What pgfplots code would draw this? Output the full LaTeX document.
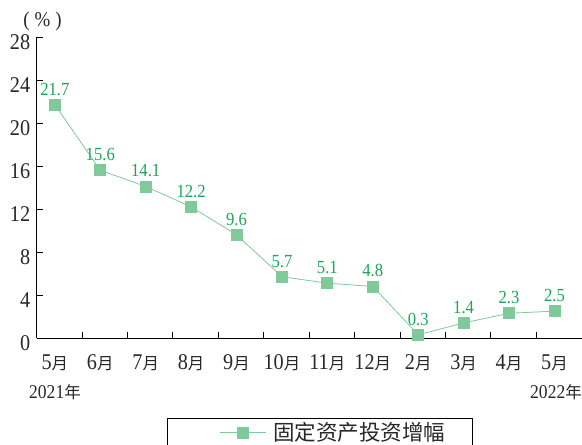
\documentclass[border=0pt]{standalone}
\usepackage{fontspec}
\setmainfont{Liberation Serif}[FakeStretch=0.9]
\newfontfamily\cjk{Noto Sans CJK SC}
\usepackage{pgfplots}
\pgfplotsset{compat=1.18}
\definecolor{lg}{RGB}{128,201,154}
\definecolor{dg}{RGB}{28,165,88}
\definecolor{tx}{RGB}{40,40,40}
\newcommand\yue{{\fontsize{16.5}{18}\selectfont\cjk 月}}
\pgfplotstableread{
x y label
0 21.7 21.7
1 15.6 15.6
2 14.1 14.1
3 12.2 12.2
4 9.6 9.6
5 5.7 5.7
6 5.1 5.1
7 4.8 4.8
8 0.3 0.3
9 1.4 1.4
10 2.3 2.3
11 2.5 2.5
}\datatable
\begin{document}
\begin{tikzpicture}
\begin{axis}[
  at={(0pt,0pt)}, anchor=south west,
  scale only axis, width=545pt, height=301pt,
  xmin=-0.4, xmax=11.6, ymin=0, ymax=28,
  clip=false,
  /pgf/number format/assume math mode=true,
  axis x line=bottom, axis y line=left,
  axis line style={-, line width=1pt, black},
  tick align=inside,
  ytick={0,4,...,28},
  major tick length=6pt,
  every tick/.style={black, line width=1pt},
  xtick={0.6,1.6,2.6,3.6,4.6,5.6,6.6,7.6,8.6,9.6,10.6},
  xticklabels={},
  extra x ticks={0,...,11},
  extra x tick labels={5\yue,6\yue,7\yue,8\yue,9\yue,10\yue,11\yue,12\yue,2\yue,3\yue,4\yue,5\yue},
  extra x tick style={major tick length=0pt, tick style={draw=none}},
  yticklabel style={font=\fontsize{22.5}{24}\selectfont, text=tx, yshift=-5pt, xshift=-3pt},
  xticklabel style={font=\fontsize{22.5}{24}\selectfont, text=tx, yshift=-13pt},
  legend style={at={(0.239,-0.266)}, anchor=north west, draw=black, line width=1pt,
    inner xsep=0pt, inner ysep=3pt, fill=white,
    font=\fontsize{21.5}{24}\selectfont\cjk, text=tx,
    nodes={inner xsep=0pt, inner ysep=1pt}, column sep=7pt},
  legend image code/.code={
    \path (-52pt,0pt) (0pt,0pt);
    \draw[lg, line width=0.8pt] (0pt,0pt) -- (46pt,0pt);
    \fill[lg] (17.5pt,-5.5pt) rectangle (28.5pt,5.5pt);
  },
]
\addplot[color=lg, line width=0.8pt, mark=square*, mark size=5.5pt,
  mark options={fill=lg, draw=lg},
  nodes near coords, point meta=explicit symbolic,
  every node near coord/.append style={text=dg, font=\fontsize{18.5}{20}\selectfont, anchor=south, inner sep=1pt, yshift=8pt}]
  table[x=x, y=y, meta=label] {\datatable};
\addlegendentry{固定资产投资增幅\rule{27pt}{0pt}}
\end{axis}
\node[font=\fontsize{21}{23}\selectfont, text=tx] at (5.8pt,317pt) {(\hspace{5pt}\%\hspace{5pt})};
\node[font=\fontsize{19.5}{21}\selectfont, text=tx] at (18.3pt,-54pt) {2021{\fontsize{16.5}{18}\selectfont\cjk 年}};
\node[font=\fontsize{19.5}{21}\selectfont, text=tx, anchor=east, inner xsep=0pt] at (545.3pt,-54pt) {2022{\fontsize{16.5}{18}\selectfont\cjk 年}};
\pgfresetboundingbox
\path[use as bounding box] (-36.7pt,-107pt) rectangle (545.3pt,338pt);
\end{tikzpicture}
\end{document}
